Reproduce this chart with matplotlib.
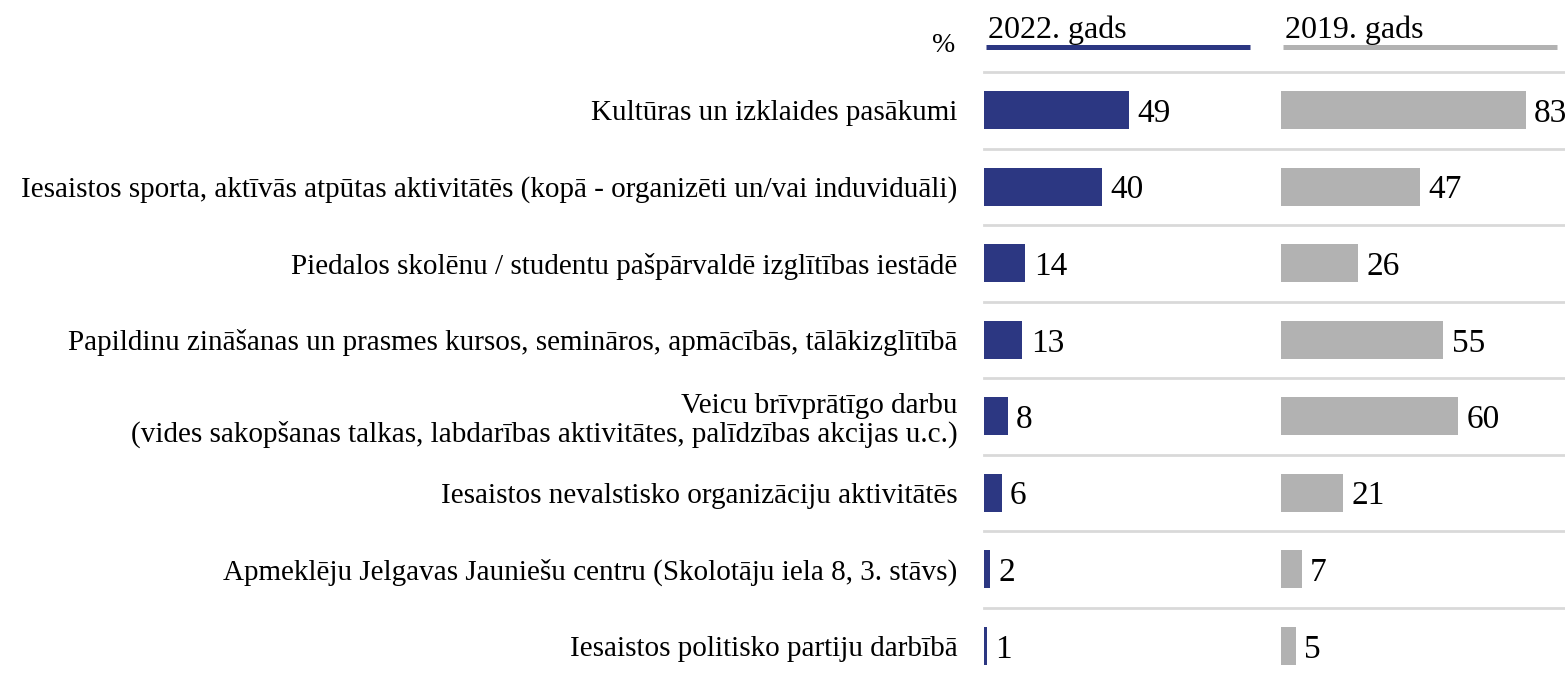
import matplotlib.pyplot as plt
from matplotlib.lines import Line2D

plt.rcParams['font.family'] = ['Liberation Serif', 'DejaVu Serif']

categories = [
    "Kultūras un izklaides pasākumi",
    "Iesaistos sporta, aktīvās atpūtas aktivitātēs (kopā - organizēti un/vai induviduāli)",
    "Piedalos skolēnu / studentu pašpārvaldē izglītības iestādē",
    "Papildinu zināšanas un prasmes kursos, semināros, apmācībās, tālākizglītībā",
    "Veicu brīvprātīgo darbu\n(vides sakopšanas talkas, labdarības aktivitātes, palīdzības akcijas u.c.)",
    "Iesaistos nevalstisko organizāciju aktivitātēs",
    "Apmeklēju Jelgavas Jauniešu centru (Skolotāju iela 8, 3. stāvs)",
    "Iesaistos politisko partiju darbībā",
]
values_2022 = [49, 40, 14, 13, 8, 6, 2, 1]
values_2019 = [83, 47, 26, 55, 60, 21, 7, 5]
series_names = ["2022. gads", "2019. gads"]

BLUE = "#2c3782"
GREY = "#b2b2b2"
SEP = "#d9d9d9"

W, H = 1565, 678
fig = plt.figure(figsize=(W / 100, H / 100), dpi=100)

# pixel helpers
def fx(px):
    return px / W

def fy(py):
    return 1 - py / H

top, row_h = 72, 76.5
n = len(categories)
bottom = top + row_h * n
scale = 2.95  # px per percent

panels = [(984, 1258, values_2022, BLUE), (1281, 1565, values_2019, GREY)]
axes = []
for x0, x1, vals, col in panels:
    ax = fig.add_axes([fx(x0), fy(bottom), fx(x1 - x0), (bottom - top) / H])
    ax.set_xlim(0, (x1 - x0) / scale)
    ax.set_ylim(n - 0.5, -0.5)
    ys = list(range(n))
    ax.barh(ys, vals, height=0.5, color=col)
    for y, v in zip(ys, vals):
        ax.annotate(str(v), (v, y), xytext=(6, 0), textcoords='offset points',
                    va='center_baseline', ha='left', fontsize=24)
    for s in ax.spines.values():
        s.set_visible(False)
    ax.set_xticks([])
    ax.tick_params(axis='y', length=0)
    ax.set_yticks([])
    ax.patch.set_alpha(0)
    axes.append(ax)

axes[0].set_yticks(range(n))
axes[0].set_yticklabels(categories, fontsize=21, linespacing=1.1)
axes[0].tick_params(axis='y', pad=19)

# separators
for i in range(n):
    y = top + row_h * i
    fig.add_artist(Line2D([fx(984), 1], [fy(y), fy(y)], color=SEP, lw=2))

# header
fig.text(fx(955), fy(52), "%", ha='right', va='baseline', fontsize=20)
for (x0, x1, vals, col), name in zip(panels, series_names):
    fig.text(fx(x0 + 4), fy(38), name, ha='left', va='baseline', fontsize=23)
    fig.add_artist(Line2D([fx(x0 + 2), fx(x1 - 8)], [fy(46.5), fy(46.5)], color=col, lw=3.6,
                          solid_capstyle='butt'))

fig.savefig("out.png", dpi=100)
